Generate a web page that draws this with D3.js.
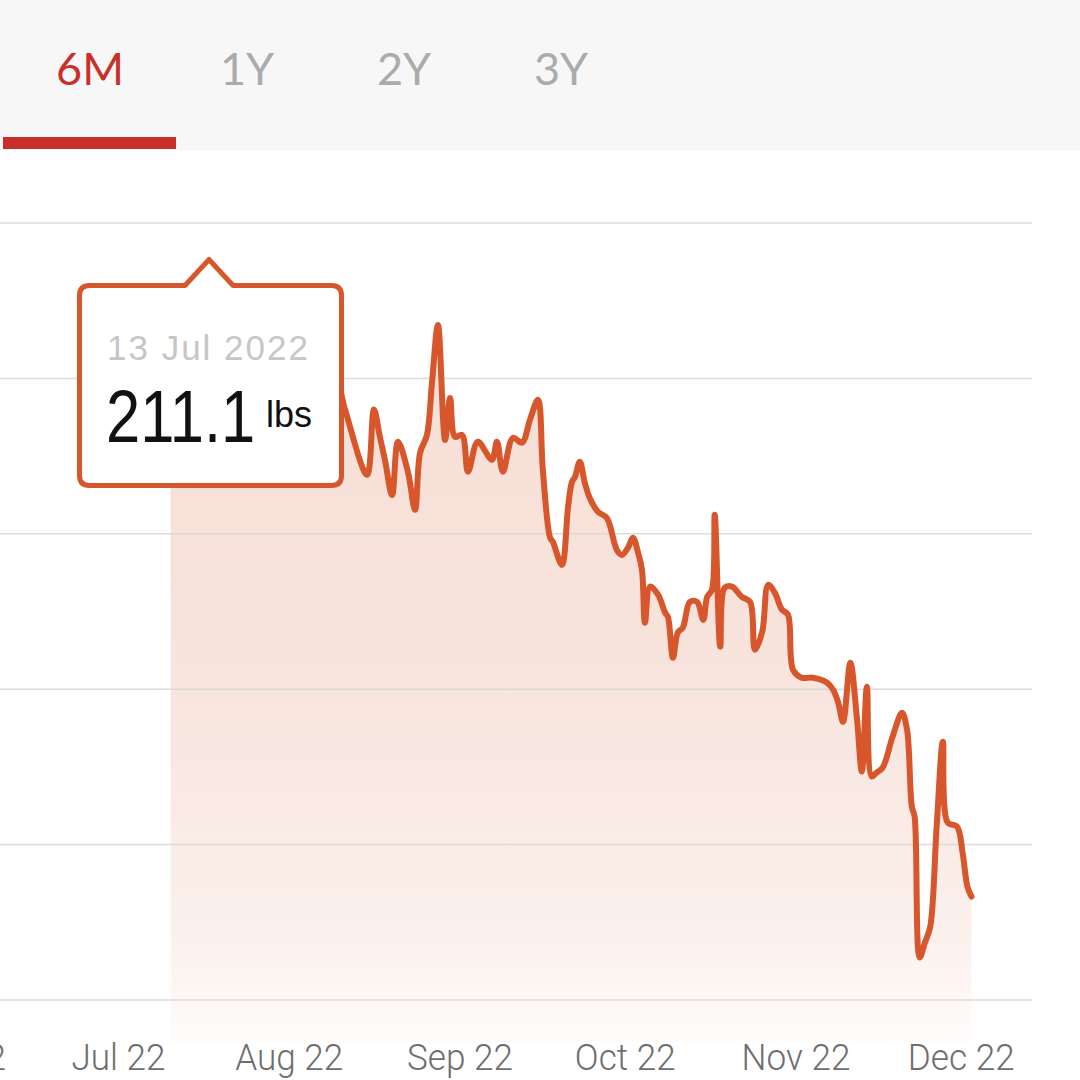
<!DOCTYPE html>
<html>
<head>
<meta charset="utf-8">
<script src="https://cdn.jsdelivr.net/npm/d3@7"></script>
<style>
  html, body { margin: 0; padding: 0; background: #ffffff; }
  svg { display: block; }
</style>
</head>
<body>
<svg id="chart" width="1080" height="1080"></svg>
<script>
// ---------------- DATA ----------------
const tabLabels = ["6M", "1Y", "2Y", "3Y"];
const activeTab = "6M";

const monthTicks = ["2022-06-01", "2022-07-01", "2022-08-01", "2022-09-01", "2022-10-01", "2022-11-01", "2022-12-01"];
const gridValues = [190, 195, 200, 205, 210, 215];

const readingTimes = [
  "2022-07-11 00:00", "2022-07-13 12:00", "2022-07-15 12:00", "2022-07-17 12:00", "2022-07-19 12:00",
  "2022-07-21 12:00", "2022-07-23 12:00", "2022-07-25 12:00", "2022-07-27 12:00", "2022-07-29 12:00",
  "2022-07-31 12:00", "2022-08-02 12:00", "2022-08-04 12:00", "2022-08-06 12:00", "2022-08-08 12:00",
  "2022-08-10 06:00", "2022-08-11 16:00", "2022-08-15 16:00", "2022-08-16 22:00", "2022-08-18 00:00",
  "2022-08-18 22:00", "2022-08-20 05:00", "2022-08-21 07:00", "2022-08-23 02:00", "2022-08-24 09:00",
  "2022-08-25 07:00", "2022-08-26 13:00", "2022-08-27 11:00", "2022-08-28 13:00", "2022-08-29 20:00",
  "2022-08-30 18:00", "2022-08-31 15:00", "2022-09-01 22:00", "2022-09-03 00:00", "2022-09-04 19:00",
  "2022-09-07 08:00", "2022-09-08 06:00", "2022-09-09 08:00", "2022-09-11 04:00", "2022-09-12 19:00",
  "2022-09-14 06:00", "2022-09-15 17:00", "2022-09-16 14:00", "2022-09-17 22:00", "2022-09-18 10:00",
  "2022-09-20 01:00", "2022-09-21 04:00", "2022-09-21 21:00", "2022-09-22 10:00", "2022-09-23 07:00",
  "2022-09-24 05:00", "2022-09-25 02:00", "2022-09-26 14:00", "2022-09-28 05:00", "2022-09-30 00:00",
  "2022-09-30 22:00", "2022-10-02 01:00", "2022-10-02 23:00", "2022-10-03 21:00", "2022-10-04 14:00",
  "2022-10-05 03:00", "2022-10-06 01:00", "2022-10-07 12:00", "2022-10-08 19:00", "2022-10-09 07:00",
  "2022-10-10 05:00", "2022-10-11 02:00", "2022-10-12 00:00", "2022-10-13 07:00", "2022-10-14 14:00",
  "2022-10-15 17:00", "2022-10-16 10:00", "2022-10-17 07:00", "2022-10-17 19:00", "2022-10-18 19:00",
  "2022-10-19 14:00", "2022-10-20 22:00", "2022-10-22 17:00", "2022-10-24 05:00", "2022-10-25 02:00",
  "2022-10-26 10:00", "2022-10-27 12:00", "2022-10-28 17:00", "2022-10-30 00:00", "2022-10-31 02:00",
  "2022-11-01 00:00", "2022-11-02 14:00", "2022-11-04 14:00", "2022-11-07 05:00", "2022-11-08 07:00",
  "2022-11-09 05:00", "2022-11-10 02:00", "2022-11-11 10:00", "2022-11-12 14:00", "2022-11-13 12:00",
  "2022-11-14 10:00", "2022-11-15 07:00", "2022-11-16 05:00", "2022-11-17 07:00", "2022-11-19 02:00",
  "2022-11-20 19:00", "2022-11-21 17:00", "2022-11-22 14:00", "2022-11-23 02:00", "2022-11-24 00:00",
  "2022-11-24 23:00", "2022-11-25 22:00", "2022-11-27 02:00", "2022-11-28 05:00", "2022-11-29 02:00",
  "2022-11-30 19:00", "2022-12-01 19:00", "2022-12-02 17:00", "2022-12-03 10:00"
];

const weightsLbs = [
  210.8, 211.1, 210.4, 209.6, 210.5,
  209.9, 210.7, 209.8, 209.3, 210.2,
  209.5, 208.9, 209.7, 209.2, 209.8,
  209.8, 209.0, 206.9, 209.0, 208.12,
  207.38, 206.25, 207.96, 207.0, 205.77,
  207.6, 208.18, 209.86, 211.72, 208.02,
  209.37, 208.12, 208.18, 207.0, 207.96,
  207.38, 207.96, 207.0, 208.09, 207.93,
  208.67, 209.31, 207.06, 204.87, 204.74,
  204.0, 205.87, 206.67, 206.83, 207.32,
  206.64, 206.16, 205.71, 205.51, 204.49,
  204.32, 204.55, 204.87, 204.39, 203.84,
  202.14, 203.30, 203.04, 202.46, 202.33,
  201.01, 201.82, 201.98, 202.81, 202.81,
  202.23, 202.97, 203.2, 205.61, 201.37,
  203.26, 203.3, 202.97, 202.81, 201.27,
  201.85, 203.36, 203.10, 202.56, 202.40,
  200.63, 200.37, 200.37, 200.21, 199.98,
  199.57, 198.95, 200.85, 199.12, 197.35,
  200.08, 197.19, 197.32, 197.48, 198.47,
  199.24, 198.70, 196.22, 195.90, 191.37,
  191.85, 192.36, 195.58, 198.31, 195.71,
  195.58, 194.74, 193.62, 193.33
];

const tooltipDate = "13 Jul 2022";
const tooltipValue = "211.1";
const tooltipUnit = "lbs";

// ---------------- SETUP ----------------
const parseTime = d3.timeParse("%Y-%m-%d %H:%M");
const parseDay = d3.timeParse("%Y-%m-%d");
const data = readingTimes.map((t, i) => ({ date: parseTime(t), value: weightsLbs[i] }));

const svg = d3.select("#chart");
const lineColor = "#d8562b";

const x = d3.scaleTime()
  .domain([parseDay("2022-07-01"), parseDay("2022-12-01")])
  .range([115.5, 115.5 + 153 * 5.508]);
const y = d3.scaleLinear().domain([190, 215]).range([1000, 223]);

// gradient
const defs = svg.append("defs");
const grad = defs.append("linearGradient")
  .attr("id", "fillGrad").attr("gradientUnits", "userSpaceOnUse")
  .attr("x1", 0).attr("y1", 300).attr("x2", 0).attr("y2", 1042);
grad.append("stop").attr("offset", "0%").attr("stop-color", "#f7ded5");
grad.append("stop").attr("offset", "50%").attr("stop-color", "#f8e4dd");
grad.append("stop").attr("offset", "85%").attr("stop-color", "#fbf0ec");
grad.append("stop").attr("offset", "100%").attr("stop-color", "#fefcfb");

// header
svg.append("rect").attr("x", 0).attr("y", 0).attr("width", 1080).attr("height", 150).attr("fill", "#f7f7f7");
const tabX = d3.scalePoint().domain(tabLabels).range([90, 561]);
svg.selectAll("text.tab").data(tabLabels).join("text")
  .attr("class", "tab")
  .attr("x", d => tabX(d)).attr("y", 85)
  .attr("text-anchor", "middle")
  .attr("font-family", "Lato, 'Open Sans', sans-serif")
  .attr("font-size", 45)
  .attr("fill", d => d === activeTab ? "#c9302a" : "#ababab")
  .text(d => d);
svg.append("rect").attr("x", 3).attr("y", 137).attr("width", 173).attr("height", 12).attr("fill", "#c9302a");

// area
const curve = d3.curveCatmullRom.alpha(0.5);
const area = d3.area()
  .x(d => x(d.date)).y0(1042).y1(d => y(d.value))
  .curve(curve);
svg.append("path").datum(data).attr("d", area).attr("fill", "url(#fillGrad)");

// gridlines
svg.append("g").selectAll("line").data(gridValues).join("line")
  .attr("x1", 0).attr("x2", 1032)
  .attr("y1", d => y(d)).attr("y2", d => y(d))
  .attr("stroke", "#d6d6d6").attr("stroke-opacity", 0.85).attr("stroke-width", 1.5);

// line
const line = d3.line().x(d => x(d.date)).y(d => y(d.value)).curve(curve);
svg.append("path").datum(data).attr("d", line)
  .attr("fill", "none").attr("stroke", lineColor).attr("stroke-width", 6)
  .attr("stroke-linejoin", "round").attr("stroke-linecap", "round");

// x axis
const xAxis = d3.axisBottom(x)
  .tickValues(monthTicks.map(parseDay))
  .tickFormat(d3.timeFormat("%b %y"))
  .tickSize(0).tickPadding(0);
const gx = svg.append("g").attr("transform", "translate(0,1070)").call(xAxis);
gx.select(".domain").remove();
gx.selectAll(".tick").attr("transform", d => `translate(${x(d) + 3},0)`);
gx.selectAll("text")
  .attr("y", 0).attr("dy", 0)
  .attr("font-family", "Roboto, 'Open Sans', sans-serif")
  .attr("font-weight", 300)
  .attr("font-size", 37)
  .attr("fill", "#6e6e6e")
  .attr("transform", "scale(0.95,1)");

// tooltip
const tt = svg.append("g");
const L = 79.5, R = 341.5, T = 285.5, B = 485.5, r = 10;
const tipX = 209, tipY = 259.5, hw = 24;
const p = d3.path();
p.moveTo(L + r, T);
p.lineTo(tipX - hw, T);
p.lineTo(tipX, tipY);
p.lineTo(tipX + hw, T);
p.lineTo(R - r, T);
p.quadraticCurveTo(R, T, R, T + r);
p.lineTo(R, B - r);
p.quadraticCurveTo(R, B, R - r, B);
p.lineTo(L + r, B);
p.quadraticCurveTo(L, B, L, B - r);
p.lineTo(L, T + r);
p.quadraticCurveTo(L, T, L + r, T);
p.closePath();
tt.append("path").attr("d", p.toString())
  .attr("fill", "#ffffff").attr("stroke", lineColor).attr("stroke-width", 5)
  .attr("stroke-linejoin", "round");
tt.append("text").attr("x", 107).attr("y", 360)
  .attr("font-family", "'Liberation Sans', Arial, sans-serif")
  .attr("font-size", 35).attr("letter-spacing", 2)
  .attr("fill", "#c6c6c6").text(tooltipDate);
tt.append("text").attr("transform", "translate(106,442) scale(0.82,1)")
  .attr("font-family", "'Liberation Sans', Arial, sans-serif")
  .attr("font-size", 75).attr("fill", "#111111").text(tooltipValue);
tt.append("text").attr("x", 266).attr("y", 427)
  .attr("font-family", "'Liberation Sans', Arial, sans-serif")
  .attr("font-size", 36).attr("fill", "#111111").text(tooltipUnit);
</script>
</body>
</html>
